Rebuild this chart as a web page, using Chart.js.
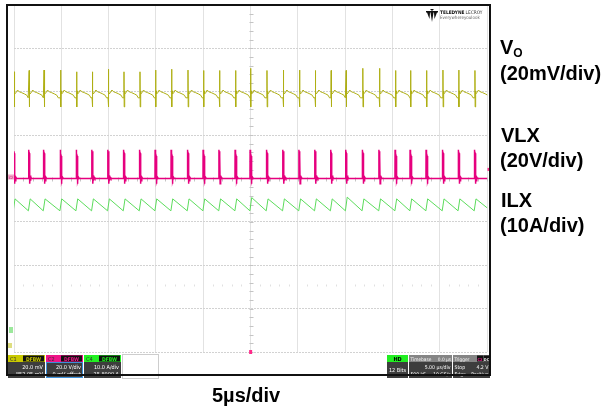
<!DOCTYPE html>
<html>
<head>
<meta charset="utf-8">
<script src="https://cdn.jsdelivr.net/npm/chart.js@4.4.0/dist/chart.umd.min.js"></script>
<style>
  body { margin: 0; background: #fff; }
  #wrap { position: relative; width: 606px; height: 414px; overflow: hidden; }
  canvas { position: absolute; left: 0; top: 0; }
  .lbl { position: absolute; font-family: Arial, "Liberation Sans", sans-serif; font-weight: bold;
         font-size: 20px; line-height: 20px; color: #000; white-space: nowrap; }
  .lbl sub { font-size: 12px; vertical-align: -3px; line-height: 0; }
</style>
</head>
<body>
<div id="wrap">
  <canvas id="scope" width="606" height="414"></canvas>
  <div class="lbl" style="left:500px;top:37px">V<sub>O</sub></div>
  <div class="lbl" style="left:500px;top:63px">(20mV/div)</div>
  <div class="lbl" style="left:501px;top:125px">VLX</div>
  <div class="lbl" style="left:500px;top:150px">(20V/div)</div>
  <div class="lbl" style="left:501px;top:190px">ILX</div>
  <div class="lbl" style="left:500px;top:215px">(10A/div)</div>
  <div class="lbl" style="left:212px;top:385px">5µs/div</div>
</div>
<script>
// --- 1. DATA (x: divisions of 5 µs, y: divisions) ---
const xTicks = [0, 1, 2, 3, 4, 5, 6, 7, 8, 9, 10];
const yTicks = [-4, -3, -2, -1, 0, 1, 2, 3, 4];

// switching edges, one per cycle (~600 kHz)
const switchTimes = [0.000, 0.320, 0.634, 0.986, 1.324, 1.655, 1.993, 2.324, 2.662, 2.993,
                     3.331, 3.676, 4.007, 4.342, 4.683, 5.000, 5.345, 5.690, 6.032, 6.366,
                     6.701, 7.018, 7.370, 7.722, 8.063, 8.380, 8.718, 9.063, 9.398, 9.739];

// VO spike top per cycle
const voPeaks = [2.46, 2.49, 2.50, 2.50, 2.46, 2.46, 2.52, 2.46, 2.46, 2.50,
                 2.52, 2.50, 2.49, 2.49, 2.49, 2.54, 2.49, 2.50, 2.50, 2.49,
                 2.49, 2.49, 2.54, 2.54, 2.49, 2.49, 2.49, 2.50, 2.50, 2.49];
// one VO cycle: offsets from the edge and levels (index 1 = spike top)
const voOffsets = [-0.006, 0.000, 0.004, 0.010, 0.020, 0.045, 0.075, 0.110, 0.160, 0.220, 0.270, 0.300];
const voLevels  = [1.86, 2.50, 1.65, 2.02, 1.95, 1.98, 2.04, 2.00, 1.98, 1.95, 1.92, 1.86];

// one VLX cycle: short on-time pulse with ringing
const vlxOffsets = [-0.014, -0.012, -0.009, -0.004, 0.006, 0.010, 0.013, 0.020, 0.028, 0.038, 0.055];
const vlxLevels  = [0.00, 0.66, 0.52, 0.63, 0.58, 0.52, -0.12, 0.07, -0.05, 0.03, 0.00];
const vlxEnd = 0.00;

// ILX sawtooth: valley before the edge, peak after it
const ilxPeaks = [-0.47, -0.47, -0.47, -0.47, -0.47, -0.47, -0.47, -0.47, -0.47, -0.47,
                  -0.47, -0.47, -0.47, -0.47, -0.47, -0.44, -0.47, -0.47, -0.47, -0.47,
                  -0.47, -0.43, -0.47, -0.47, -0.47, -0.47, -0.47, -0.47, -0.47, -0.47];
const ilxOffsets = [-0.016, 0.022];
const ilxValley = -0.745;
const ilxEnd = -0.68;

// --- 2. BUILD TRACES ---
function buildTrace(offsets, levels, perCycle) {
  const pts = [];
  switchTimes.forEach((t, i) => {
    const next = i + 1 < switchTimes.length ? switchTimes[i + 1] : t + 0.34;
    offsets.forEach((o, k) => {
      if (t + o >= next + offsets[0]) return; // keep points in order
      const y = perCycle && perCycle[k] ? perCycle[k][i] : levels[k];
      pts.push({ x: t + o, y: y });
    });
  });
  return pts;
}

const voData = buildTrace(voOffsets, voLevels, { 1: voPeaks });
const vlxData = buildTrace(vlxOffsets, vlxLevels);
vlxData.push({ x: xTicks[xTicks.length - 1], y: vlxEnd });
const ilxData = buildTrace(ilxOffsets, [ilxValley, 0], { 1: ilxPeaks });
ilxData.push({ x: xTicks[xTicks.length - 1], y: ilxEnd });

// --- 3. SCOPE DECORATION (frame, centre ticks, info panel, logo) ---
const PANEL_FONT = '"Liberation Sans Narrow", "DejaVu Sans Condensed", Arial, sans-serif';

function box(ctx, x, y, w, h, fill) {
  ctx.fillStyle = fill;
  ctx.fillRect(x, y, w, h);
}
function txt(ctx, s, x, y, size, color, align, bold) {
  ctx.font = (bold ? 'bold ' : '') + size + 'px ' + PANEL_FONT;
  ctx.fillStyle = color;
  ctx.textAlign = align || 'left';
  ctx.textBaseline = 'alphabetic';
  ctx.fillText(s, x, y);
  return ctx.measureText(s).width;
}

function drawChannel(ctx, x, w, head, name, flags, line1, line2, selected) {
  box(ctx, x, 355, w, 7, head);
  txt(ctx, name, x + 2, 361, 5.5, '#333');
  box(ctx, x + w - 22, 355.5, 21, 6, '#111');
  txt(ctx, flags, x + w - 11.5, 360.8, 5, head, 'center', true);
  box(ctx, x, 362, w, 16, '#3d3d3d');
  if (selected) {
    ctx.strokeStyle = '#3b8fd9';
    ctx.lineWidth = 1;
    ctx.strokeRect(x + 0.5, 362.5, w - 1, 15);
  }
  txt(ctx, line1, x + w - 2, 368.5, 5.5, '#fff', 'right');
  txt(ctx, line2, x + w - 2, 376, 5.5, '#fff', 'right');
}

const scopeDecor = {
  id: 'scopeDecor',
  beforeDatasetsDraw(chart) {
    const { ctx, scales: { x, y } } = chart;
    ctx.save();
    ctx.strokeStyle = '#c4c4c4';
    ctx.lineWidth = 1;
    ctx.beginPath();
    const cx = Math.round(x.getPixelForValue(5)) + 0.5;
    for (let i = -20; i <= 20; i++) {
      const py = Math.round(y.getPixelForValue(i / 5)) + 0.5;
      ctx.moveTo(cx - 2, py); ctx.lineTo(cx + 2, py);
    }
    const cy = Math.round(y.getPixelForValue(0)) + 0.5;
    for (let i = 0; i <= 50; i++) {
      const px = Math.round(x.getPixelForValue(i / 5)) + 0.5;
      ctx.moveTo(px, cy - 2); ctx.lineTo(px, cy + 2);
    }
    ctx.stroke();
    // faint dotted row in the lower half
    ctx.strokeStyle = '#e0e0e0';
    ctx.beginPath();
    const ry = Math.round(y.getPixelForValue(-2.45)) + 0.5;
    for (let i = 1; i < 50; i++) {
      if (i % 5 === 0) continue;
      const px = Math.round(x.getPixelForValue(i / 5)) + 0.5;
      ctx.moveTo(px, ry - 1); ctx.lineTo(px, ry + 1);
    }
    ctx.stroke();
    ctx.restore();
  },
  afterDraw(chart) {
    const { ctx, scales: { x, y } } = chart;
    ctx.save();

    // channel markers on the left, trigger markers
    box(ctx, 8, y.getPixelForValue(0) - 4, 6, 5, '#f2a6c8');
    txt(ctx, 'C2', 11, y.getPixelForValue(0), 3.5, '#c0006a', 'center');
    box(ctx, 9, 327, 4, 6, '#9be89b');
    box(ctx, 8, 343, 4, 5, '#dede80');
    box(ctx, x.getPixelForValue(5) - 1.5, 350, 3, 4, '#ff2a8a');
    box(ctx, 487.5, y.getPixelForValue(0.21) - 1.5, 2.5, 3, '#ff2a8a');

    // info panel
    drawChannel(ctx, 8, 37, '#c9c900', 'C1', 'DFBW', '20.0 mV', '852.05 mV', false);
    drawChannel(ctx, 46, 37, '#ee1488', 'C2', 'DFBW', '20.0 V/div', '0 mV offset', true);
    drawChannel(ctx, 84, 37, '#22f022', 'C4', 'DFBW', '10.0 A/div', '25.8000 A', false);
    ctx.strokeStyle = '#9a9a9a';
    ctx.lineWidth = 1;
    ctx.setLineDash([1, 1]);
    ctx.strokeRect(122.5, 354.5, 36, 24);
    ctx.setLineDash([]);

    box(ctx, 387, 355, 21, 7, '#22ee22');
    txt(ctx, 'HD', 397.5, 361, 5.5, '#000', 'center', true);
    box(ctx, 387, 362, 21, 16, '#3d3d3d');
    txt(ctx, '12 Bits', 397.5, 372, 5.5, '#fff', 'center');

    box(ctx, 409, 355, 43, 7, '#858585');
    txt(ctx, 'Timebase', 410.5, 361, 4.8, '#f4f4f4');
    txt(ctx, '0.0 µs', 451, 361, 4.8, '#f4f4f4', 'right');
    box(ctx, 409, 362, 43, 16, '#3d3d3d');
    txt(ctx, '5.00 µs/div', 450.5, 368.5, 5.2, '#fff', 'right');
    txt(ctx, '500 kS', 410.5, 376, 5, '#fff');
    txt(ctx, '10 GS/s', 450.5, 376, 5, '#fff', 'right');

    box(ctx, 453, 355, 37, 7, '#858585');
    txt(ctx, 'Trigger', 454.5, 361, 4.8, '#f4f4f4');
    box(ctx, 477, 355.5, 6, 6, '#111');
    txt(ctx, 'C2', 480, 360.5, 3.8, '#ee1488', 'center', true);
    box(ctx, 483.5, 355.5, 6, 6, '#111');
    txt(ctx, 'DC', 486.5, 360.5, 3.8, '#eee', 'center', true);
    box(ctx, 453, 362, 37, 16, '#3d3d3d');
    txt(ctx, 'Stop', 454.5, 368.5, 5.2, '#fff');
    txt(ctx, '4.2 V', 488.5, 368.5, 5.2, '#fff', 'right');
    txt(ctx, 'Edge', 454.5, 376, 5, '#fff');
    txt(ctx, 'Positive', 488.5, 376, 5, '#fff', 'right');

    // outer frame
    ctx.strokeStyle = '#111';
    ctx.lineWidth = 2;
    ctx.strokeRect(7, 5, 483, 370);

    // logo
    ctx.fillStyle = '#111';
    ctx.beginPath();
    ctx.moveTo(426, 11); ctx.lineTo(438, 11); ctx.lineTo(438, 12.5); ctx.lineTo(426, 12.5); ctx.closePath();
    ctx.moveTo(430.5, 12.5); ctx.lineTo(433.5, 12.5); ctx.lineTo(432, 22); ctx.closePath();
    ctx.moveTo(427, 12.5); ctx.lineTo(430, 12.5); ctx.lineTo(429.5, 19); ctx.closePath();
    ctx.moveTo(434, 12.5); ctx.lineTo(437, 12.5); ctx.lineTo(434.5, 19); ctx.closePath();
    ctx.moveTo(430, 9); ctx.lineTo(434, 9); ctx.lineTo(432, 11); ctx.closePath();
    ctx.fill();
    const wTel = txt(ctx, 'TELEDYNE', 440, 13.5, 4.8, '#111', 'left', true);
    txt(ctx, 'LECROY', 440 + wTel + 1, 13.5, 4.8, '#333');
    txt(ctx, 'Everywhereyoulook', 440, 19, 4.5, '#666');
    ctx.restore();
  }
};

// --- 4. CHART ---
const ctx = document.getElementById('scope').getContext('2d');
new Chart(ctx, {
  type: 'line',
  data: {
    datasets: [
      { label: 'VO', data: voData, borderColor: '#afaf14', borderWidth: 1 },
      { label: 'VLX', data: vlxData, borderColor: '#e6007e', borderWidth: 1.5 },
      { label: 'ILX', data: ilxData, borderColor: '#5cdc5c', borderWidth: 1 }
    ]
  },
  options: {
    responsive: false,
    animation: false,
    events: [],
    layout: { padding: { left: 14, top: 5, right: 118.7, bottom: 62 } },
    elements: { point: { radius: 0 }, line: { tension: 0 } },
    plugins: { legend: { display: false }, tooltip: { enabled: false } },
    scales: {
      x: {
        type: 'linear', min: xTicks[0], max: xTicks[xTicks.length - 1],
        afterBuildTicks: s => { s.ticks = xTicks.map(v => ({ value: v })); },
        ticks: { display: false },
        grid: { color: '#e2e2e2', lineWidth: 1, drawTicks: false },
        border: { display: false }
      },
      y: {
        type: 'linear', min: yTicks[0], max: yTicks[yTicks.length - 1],
        afterBuildTicks: s => { s.ticks = yTicks.map(v => ({ value: v })); },
        ticks: { display: false },
        grid: { color: '#d2d2d2', lineWidth: 1, drawTicks: false },
        border: { display: false, dash: [2, 1] }
      }
    }
  },
  plugins: [scopeDecor]
});
</script>
</body>
</html>
